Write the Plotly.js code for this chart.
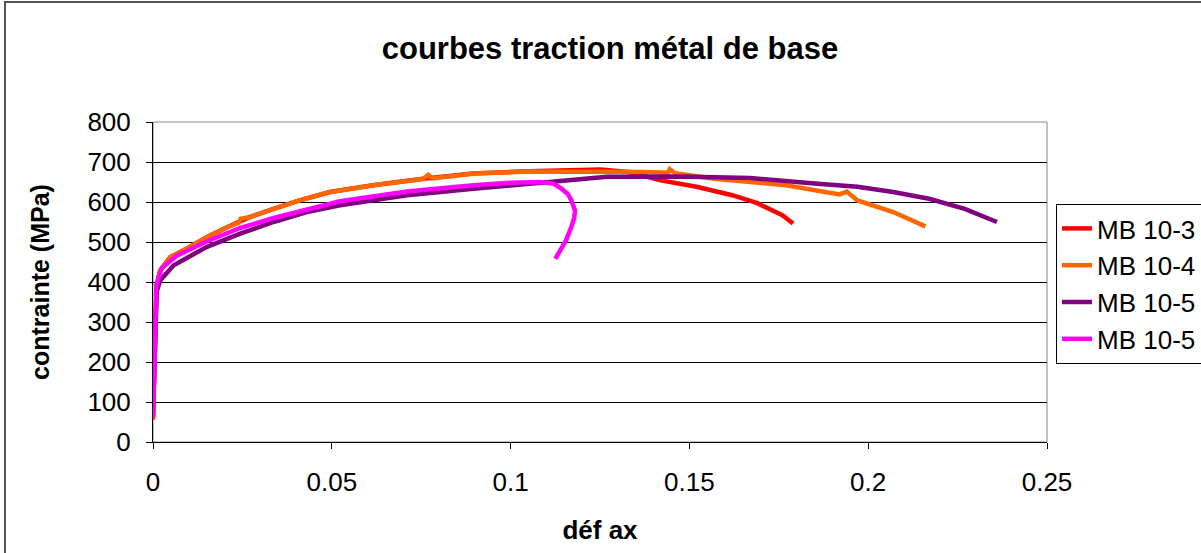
<!DOCTYPE html>
<html>
<head>
<meta charset="utf-8">
<script src="https://cdn.plot.ly/plotly-3.0.1.min.js"></script>
<style>
html,body{margin:0;padding:0;background:#fff;}
#wrap{position:relative;width:1201px;height:553px;overflow:hidden;}
#chart{position:absolute;left:0;top:0;width:1201px;height:553px;}
#frame{position:absolute;left:4px;top:1px;width:1300px;height:700px;border-left:2px solid #555;border-top:2px solid #555;pointer-events:none;}
</style>
</head>
<body>
<div id="wrap"><div id="chart"></div><div id="frame"></div></div>
<script>
// MB 10-3
const x_mb103 = [0, 0.0003, 0.0006, 0.001, 0.002, 0.0048, 0.0104, 0.015, 0.0207, 0.027, 0.0337, 0.041, 0.0495, 0.0616, 0.0756, 0.0896, 0.105, 0.115, 0.125, 0.133, 0.142, 0.152, 0.162, 0.169, 0.176, 0.179];
const y_mb103 = [60, 200, 330, 390, 429, 462, 488, 512, 537, 562, 583, 604, 625, 642, 658, 671, 677, 680, 681, 675, 654, 638, 617, 597, 567, 546];
// MB 10-4
const x_mb104 = [0, 0.0003, 0.0006, 0.001, 0.002, 0.0048, 0.0104, 0.015, 0.0207, 0.024, 0.0245, 0.027, 0.0337, 0.041, 0.0495, 0.0616, 0.0756, 0.077, 0.078, 0.0896, 0.105, 0.117, 0.137, 0.144, 0.1445, 0.146, 0.157, 0.177, 0.187, 0.192, 0.194, 0.197, 0.207, 0.216];
const y_mb104 = [55, 200, 330, 390, 429, 462, 488, 512, 537, 548, 558, 562, 583, 604, 625, 642, 658, 668, 659, 671, 676, 676, 675, 673, 682, 672, 658, 642, 625, 619, 626, 604, 575, 539];
// MB 10-5 (a)
const x_mb105a = [0, 0.0003, 0.0006, 0.001, 0.002, 0.0058, 0.0151, 0.0244, 0.0337, 0.043, 0.0523, 0.071, 0.0896, 0.108, 0.127, 0.147, 0.167, 0.185, 0.197, 0.207, 0.217, 0.227, 0.236];
const y_mb105a = [70, 200, 320, 375, 404, 442, 488, 521, 550, 575, 592, 617, 633, 648, 663, 664, 660, 646, 638, 625, 608, 583, 550];
// MB 10-5 (b)
const x_mb105b = [0, 0.0003, 0.0006, 0.001, 0.0025, 0.0067, 0.0151, 0.0244, 0.0337, 0.043, 0.0523, 0.071, 0.0896, 0.1, 0.108, 0.112, 0.114, 0.116, 0.117, 0.118, 0.1178, 0.117, 0.1155, 0.1125];
const y_mb105b = [60, 200, 330, 395, 435, 466, 502, 535, 560, 582, 602, 626, 642, 648, 650, 646, 635, 620, 604, 579, 560, 538, 504, 458];

const names = ["MB 10-3", "MB 10-4", "MB 10-5", "MB 10-5"];
const colors = ["#FF0000", "#FF6600", "#800080", "#FF00FF"];
const xs = [x_mb103, x_mb104, x_mb105a, x_mb105b];
const ys = [y_mb103, y_mb104, y_mb105a, y_mb105b];

const xTicks = [0, 0.05, 0.1, 0.15, 0.2, 0.25];
const xTickText = ["0", "0.05", "0.1", "0.15", "0.2", "0.25"];
const yTicks = [0, 100, 200, 300, 400, 500, 600, 700, 800];

const F = "Arial, 'Liberation Sans', sans-serif";
const traces = names.map((n, i) => ({
  type: "scatter", mode: "lines", name: n, legendgroup: "g" + i,
  x: xs[i], y: ys[i],
  line: {color: colors[i], width: 4.5}
}));

const layout = {
  width: 1201, height: 553,
  margin: {l: 153, r: 154, t: 122, b: 111},
  paper_bgcolor: "#fff", plot_bgcolor: "#fff",
  showlegend: true,
  title: {text: "<b>courbes traction métal de base</b>", font: {family: F, size: 31, color: "#000"},
          x: 610/1201, xanchor: "center", xref: "container", y: 1 - 48/553, yanchor: "middle"},
  xaxis: {
    range: [0, 0.25], tickvals: xTicks, ticktext: xTickText,
    showgrid: false, zeroline: false,
    showline: true, linecolor: "#000", linewidth: 1,
    ticks: "outside", ticklen: 6, tickcolor: "#000",
    tickfont: {family: F, size: 26, color: "#000"},
    ticklabelstandoff: 11,
    title: {text: "<b>déf ax</b>", font: {family: F, size: 26, color: "#000"}, standoff: 24}
  },
  yaxis: {
    range: [0, 800], tickvals: yTicks,
    showgrid: true, gridcolor: "#000", gridwidth: 1, zeroline: false,
    showline: true, linecolor: "#000", linewidth: 1,
    ticks: "outside", ticklen: 6, tickcolor: "#000",
    tickfont: {family: F, size: 26, color: "#000"},
    ticklabelstandoff: 10,
    title: {text: "<b>contrainte (MPa)</b>", font: {family: F, size: 25, color: "#000"}, standoff: 30}
  },
  shapes: [{type: "rect", xref: "paper", yref: "paper", x0: 0, x1: 1, y0: 0, y1: 1,
            line: {color: "#888", width: 1}, layer: "below"}],
  legend: {
    xref: "container", yref: "container",
    x: 1056/1201, y: 1 - 204/553, xanchor: "left", yanchor: "top",
    bgcolor: "#fff", bordercolor: "#000", borderwidth: 1,
    font: {family: F, size: 26, color: "#000"},
    tracegroupgap: 0, itemwidth: 30
  }
};

Plotly.newPlot("chart", traces, layout, {displayModeBar: false, staticPlot: true});
</script>
</body>
</html>
